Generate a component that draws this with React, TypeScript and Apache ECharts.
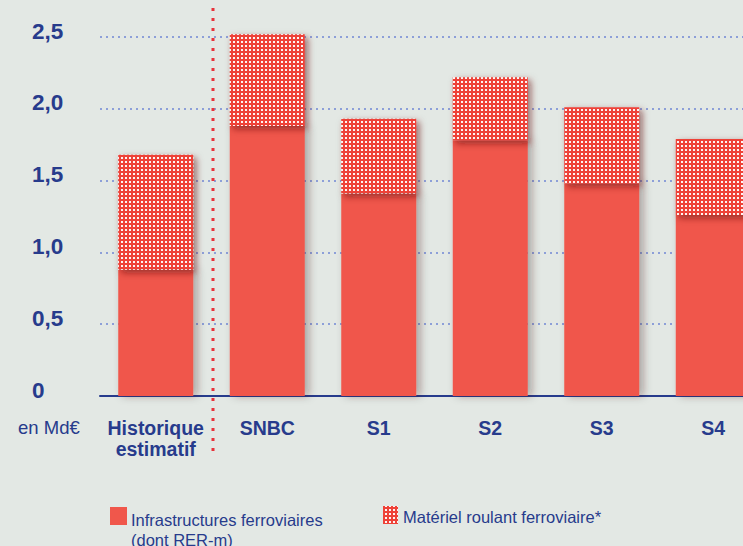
import React, { useEffect, useRef } from "react";
import * as echarts from "echarts";

const categories = ["Historique\nestimatif", "SNBC", "S1", "S2", "S3", "S4"];
const infrastructures = [0.88, 1.88, 1.41, 1.78, 1.48, 1.26];
const materiel = [0.8, 0.64, 0.52, 0.44, 0.53, 0.53];
const seriesNames = ["Infrastructures ferroviaires\n(dont RER-m)", "Matériel roulant ferroviaire*"];

const NAVY = "#273b8c";
const RED = "#f0574b";
const FONT = "Liberation Sans, Arial, sans-serif";

function makePattern(): HTMLCanvasElement {
  const c = document.createElement("canvas");
  c.width = 4;
  c.height = 4;
  const ctx = c.getContext("2d")!;
  ctx.fillStyle = "#ee4238";
  ctx.fillRect(0, 0, 4, 4);
  ctx.fillStyle = "#fdf4f3";
  ctx.fillRect(1, 1, 2, 2);
  return c;
}

export default function App() {
  const ref = useRef<HTMLDivElement>(null);
  useEffect(() => {
    if (!ref.current) return;
    const chart = echarts.init(ref.current, null, { renderer: "svg" });
    const pat = makePattern();
    const patternFill: any = { image: pat, repeat: "repeat", imageWidth: 4, imageHeight: 4 };
    const gridLeft = 100;
    const gridWidth = 669;
    const sepX = gridLeft + gridWidth / categories.length + 1.5;
    chart.setOption({
      animation: false,
      backgroundColor: "#e3e8e4",
      grid: {
        left: gridLeft,
        top: 37,
        width: gridWidth,
        bottom: 150,
        outerBoundsMode: "none",
        containLabel: false,
      },
      xAxis: {
        type: "category",
        data: categories,
        axisLine: { show: true, lineStyle: { color: NAVY, width: 2 } },
        axisTick: { show: false },
        axisLabel: {
          color: NAVY,
          fontFamily: FONT,
          fontWeight: "bold",
          fontSize: 19.5,
          lineHeight: 21,
          margin: 21,
          interval: 0,
          hideOverlap: false,
        },
      },
      yAxis: {
        type: "value",
        min: 0,
        max: 2.5,
        interval: 0.5,
        axisLine: { show: false },
        axisTick: { show: false },
        splitLine: { show: true, lineStyle: { color: "#8d9fd8", type: [2, 4], width: 2 } },
        axisLabel: {
          color: NAVY,
          fontFamily: FONT,
          fontWeight: "bold",
          fontSize: 22.5,
          align: "left",
          verticalAlign: "bottom",
          lineHeight: 12,
          margin: 68,
          formatter: (v: number) => (v === 0 ? "0" : v.toFixed(1).replace(".", ",")),
        },
      },
      series: [
        {
          name: seriesNames[0],
          type: "bar",
          stack: "total",
          data: infrastructures,
          barWidth: 75,
          clip: false,
          itemStyle: {
            color: RED,
            shadowColor: "rgba(60,20,20,0.35)",
            shadowBlur: 8,
            shadowOffsetX: 4,
            shadowOffsetY: 0,
          },
        },
        {
          name: seriesNames[1],
          type: "bar",
          stack: "total",
          data: materiel,
          barWidth: 75,
          clip: false,
          itemStyle: {
            color: patternFill,
            shadowColor: "rgba(100,10,10,0.6)",
            shadowBlur: 7,
            shadowOffsetX: 3,
            shadowOffsetY: 3,
          },
        },
      ],
      graphic: [
        {
          type: "line",
          shape: { x1: sepX, y1: 8, x2: sepX, y2: 456 },
          style: { stroke: "#e8323a", lineWidth: 3, lineDash: [3, 7] },
          z: 10,
        },
        {
          type: "text",
          x: 18,
          y: 418,
          style: { text: "en Md€", fill: NAVY, font: `18.5px ${FONT}` },
        },
        {
          type: "rect",
          shape: { x: 110, y: 507, width: 17, height: 18 },
          style: { fill: RED },
        },
        {
          type: "text",
          x: 131,
          y: 510,
          style: {
            text: seriesNames[0],
            fill: NAVY,
            font: `16.5px ${FONT}`,
            lineHeight: 20,
          },
        },
        {
          type: "rect",
          shape: { x: 383, y: 506, width: 15, height: 18 },
          style: { fill: patternFill },
        },
        {
          type: "text",
          x: 403,
          y: 508,
          style: { text: seriesNames[1], fill: NAVY, font: `16.5px ${FONT}` },
        },
      ],
    });
    return () => chart.dispose();
  }, []);
  return (
    <div
      ref={ref}
      style={{ position: "fixed", left: 0, top: 0, width: 743, height: 546 }}
    />
  );
}
